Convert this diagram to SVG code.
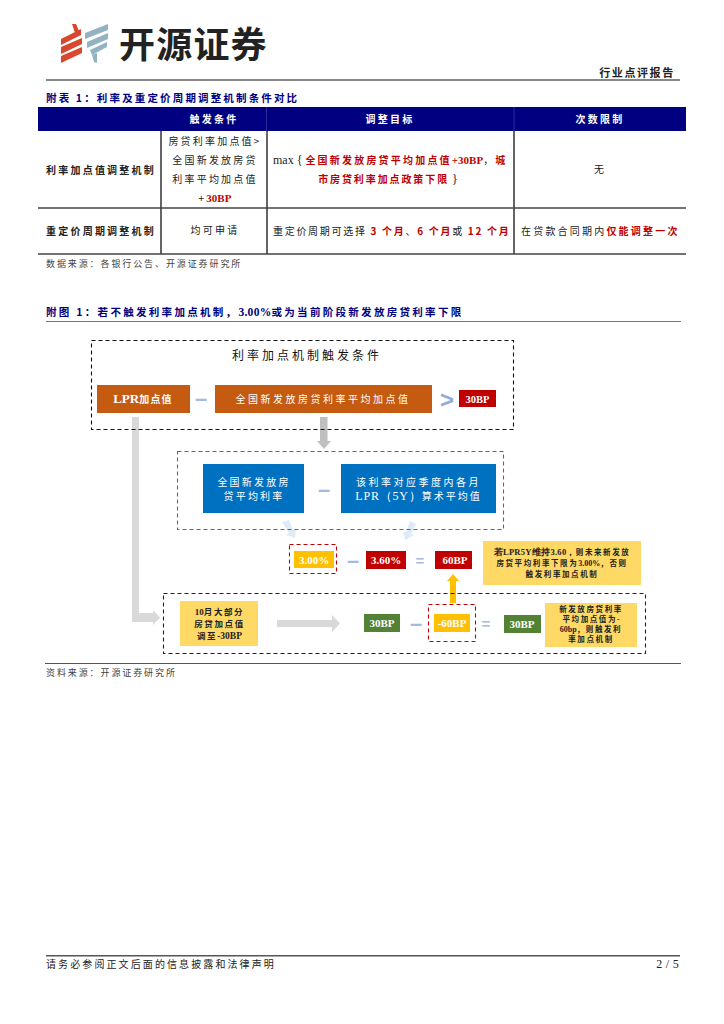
<svg xmlns="http://www.w3.org/2000/svg" width="724" height="1024" viewBox="0 0 724 1024">
<style>
text{font-family:"Noto Sans CJK SC","Liberation Serif",sans-serif;font-size:10px;letter-spacing:2.2px;fill:#222;text-anchor:middle}
.l{text-anchor:start}
.b{font-weight:700}
.w{fill:#fff}
.r{fill:#c00000;font-weight:700}
.n{fill:#000080;font-weight:700}
.lat{font-family:"Liberation Serif",serif;letter-spacing:0}
.s{font-size:7.500px;letter-spacing:1.600px;font-weight:700}
.d{fill:none;stroke-width:1.100;stroke-dasharray:4 3}
.op{font-family:"Liberation Sans",sans-serif;font-weight:700;letter-spacing:0;fill:#a5b9e2}
</style>
<g id="logo">
<path d="M61 39L81 29L81 35L61 45Z M61 47L82 38L82 44L61 54Z M61 56L82 47L82 53L61 63Z M72 24L76 24L79 31L75 33Z" fill="#d9472f"/>
<path d="M85 33L108 24L108 30L85 39Z M87 42L108 33L108 39L87 48Z M90 50L107 42L107 47L92 55Z M92 55L97 53L97 63L94 62Z" fill="#94b3c2"/>
<text x="119" y="58" class="l b" style="font-size:36px;letter-spacing:1.200px;fill:#222">开源证券</text>
</g>
<g id="header">
<rect x="46" y="79.500" width="634" height="1" fill="#111"/>
<text x="637" y="77" class="b" style="font-size:11px;letter-spacing:1.600px">行业点评报告</text>
</g>
<g id="table">
<text x="46" y="102" class="l n" style="font-size:10.500px;letter-spacing:2.150px">附表 1：利率及重定价周期调整机制条件对比</text>
<rect x="38" y="107" width="648" height="24" fill="#000080"/>
<path d="M266.500 107V131M514 107V131" stroke="#2a2a9a" stroke-width="1"/>
<text x="214" y="123" class="w b">触发条件</text>
<text x="390" y="123" class="w b">调整目标</text>
<text x="600" y="123" class="w b">次数限制</text>
<path d="M161 131V254M267 131V254M514 131V254" stroke="#333" stroke-width="1.500" fill="none"/>
<path d="M38 208H686M38 254H686" stroke="#444" stroke-width="1.500" fill="none"/>
<text x="101" y="174" class="b">利率加点值调整机制</text>
<text x="101" y="235" class="b">重定价周期调整机制</text>
<text x="215" y="145">房贷利率加点值&gt;</text>
<text x="215" y="164">全国新发放房贷</text>
<text x="215" y="183">利率平均加点值</text>
<text x="215" y="202"><tspan>+</tspan><tspan class="r lat" style="font-size:11px">30BP</tspan></text>
<text x="273" y="164" class="l" style="letter-spacing:2.200px"><tspan class="lat" style="font-size:12px">max { </tspan><tspan class="r">全国新发放房贷平均加点值</tspan><tspan class="r lat" style="font-size:11px">+30BP</tspan><tspan>，</tspan><tspan class="r">城</tspan></text>
<text x="388" y="183" style="letter-spacing:1.900px"><tspan class="r">市房贷利率加点政策下限</tspan><tspan class="lat" style="font-size:12px"> }</tspan></text>
<text x="600" y="173">无</text>
<text x="215" y="234">均可申请</text>
<text x="273" y="235" class="l" style="letter-spacing:1.700px">重定价周期可选择 <tspan class="r">3 个月</tspan>、<tspan class="r">6 个月</tspan>或 <tspan class="r">12 个月</tspan></text>
<text x="521" y="235" class="l" style="letter-spacing:2.200px">在贷款合同期内<tspan class="r">仅能调整一次</tspan></text>
<text x="46" y="267" class="l" style="font-size:9px;letter-spacing:1.900px;fill:#444">数据来源：各银行公告、开源证券研究所</text>
</g>
<g id="figure-title">
<text x="46" y="316" class="l n" style="font-size:10.500px;letter-spacing:2.300px">附图 1：若不触发利率加点机制，<tspan class="lat" style="font-size:11.500px;letter-spacing:.3px">3.00%</tspan>或为当前阶段新发放房贷利率下限</text>
<rect x="46" y="321" width="635" height="1" fill="#777"/>
</g>
<g id="connectors">
<path d="M132 417H139V613H153V610L160 617.500L153 625V622H132Z" fill="#d9d9d9"/>
<path d="M320 417H327.500V441H331L324 449L317 441H320Z" fill="#bfbfbf"/>
<path d="M282 522L289 520L293 530L296 528L295 538L286 535L289 533Z" fill="#deebf7"/>
<path d="M410 521L416 524L411 534L414 535L405 540L403 531L406 532Z" fill="#deebf7"/>
<path d="M450 603V581H447L453 574L459 581H456V603Z" fill="#ffc000"/>
<path d="M277 620H332V615L340 623.500L332 632V627H277Z" fill="#d9d9d9"/>
</g>
<g id="box-trigger">
<rect x="91.500" y="340.500" width="422" height="89" class="d" stroke="#111"/>
<text x="307" y="360" style="font-size:12px;letter-spacing:3px;fill:#111">利率加点机制触发条件</text>
</g>
<g id="lpr-spread"><rect x="97" y="385" width="93" height="28" fill="#c55a11"/>
<text x="143" y="403" class="w b" style="letter-spacing:1.200px"><tspan class="lat" style="font-size:13px">LPR</tspan>加点值</text></g>
<text x="201" y="406" class="op" style="font-size:22px">–</text>
<g id="national-spread"><rect x="215" y="385" width="217" height="28" fill="#c55a11"/>
<text x="323" y="403" class="w" style="letter-spacing:2.500px">全国新发放房贷利率平均加点值</text></g>
<text x="447" y="408" class="op" style="font-size:24px;fill:#8faadc">&gt;</text>
<g id="v30bp"><rect x="459" y="390" width="37" height="17" fill="#c00000"/>
<text x="477.500" y="402.500" class="w lat b" style="font-size:10.500px">30BP</text></g>
<g id="box-rate"><rect x="177.500" y="451.500" width="326" height="78" class="d" stroke="#666"/></g>
<g id="national-rate"><rect x="203" y="464" width="101" height="49" fill="#0070c0"/>
<text x="254" y="486" class="w" style="letter-spacing:2.200px">全国新发放房</text>
<text x="254" y="500" class="w" style="letter-spacing:2.200px">贷平均利率</text></g>
<text x="324" y="497" class="op" style="font-size:22px">–</text>
<g id="lpr-average"><rect x="341" y="464" width="155" height="49" fill="#0070c0"/>
<text x="418.500" y="486" class="w" style="letter-spacing:2.500px">该利率对应季度内各月</text>
<text x="418.500" y="500" class="w" style="letter-spacing:2px"><tspan class="lat" style="font-size:12px;letter-spacing:.8px">LPR（5Y）</tspan>算术平均值</text></g>
<g id="v300"><rect x="289.500" y="544.500" width="47" height="29" class="d" stroke="#c00000"/>
<rect x="294" y="551" width="40" height="17" fill="#ffc000"/>
<text x="314" y="564" class="w lat b" style="font-size:11px">3.00%</text></g>
<text x="353" y="568" class="op" style="font-size:22px">–</text>
<g id="v360"><rect x="366" y="551" width="40" height="18" fill="#c00000"/>
<text x="386" y="564" class="w lat b" style="font-size:11px">3.60%</text></g>
<text x="420" y="566" class="op" style="font-size:15px">=</text>
<g id="v60"><rect x="435" y="551" width="37" height="18" fill="#c00000"/>
<text x="455" y="564" class="w lat b" style="font-size:11px">60BP</text></g>
<g id="note-top"><rect x="483" y="541" width="158" height="44" fill="#ffd966"/>
<text x="562" y="555" class="s"><tspan class="lat" style="font-size:8.500px;letter-spacing:.3px">若LPR5Y维持3.60，</tspan>则未来新发放</text>
<text x="562" y="566" class="s">房贷平均利率下限为<tspan class="lat" style="font-size:8px">3.00%</tspan>，否则</text>
<text x="562" y="577" class="s">触发利率加点机制</text></g>
<g id="box-adjust"><rect x="163.500" y="593.500" width="482" height="60" class="d" stroke="#222"/></g>
<g id="october"><rect x="180" y="601" width="78" height="45" fill="#ffd966"/>
<text x="219.500" y="615" class="s" style="font-size:8.500px"><tspan class="lat" style="font-size:9px">10</tspan>月大部分</text>
<text x="219.500" y="627" class="s" style="font-size:8.500px">房贷加点值</text>
<text x="219.500" y="639" class="s" style="font-size:8.500px">调至<tspan class="lat" style="font-size:9.500px">-30BP</tspan></text></g>
<g id="v30a"><rect x="364" y="614" width="36" height="18" fill="#548235"/>
<text x="382" y="627" class="w lat b" style="font-size:11px">30BP</text></g>
<text x="416" y="631" class="op" style="font-size:22px">–</text>
<g id="vneg60"><rect x="428.500" y="604.500" width="47" height="37" class="d" stroke="#c00000"/>
<rect x="434" y="614" width="36" height="18" fill="#ffc000"/>
<text x="452" y="627" class="w lat b" style="font-size:11px">-60BP</text></g>
<text x="486" y="629" class="op" style="font-size:15px">=</text>
<g id="v30b"><rect x="504" y="615" width="37" height="18" fill="#548235"/>
<text x="522" y="628" class="w lat b" style="font-size:11px">30BP</text></g>
<g id="note-bottom"><rect x="545" y="603" width="92" height="44" fill="#ffd966"/>
<text x="591" y="612" class="s">新发放房贷利率</text>
<text x="591" y="622" class="s">平均加点值为<tspan class="lat">-</tspan></text>
<text x="591" y="632" class="s"><tspan class="lat" style="font-size:8px">60bp</tspan>，则触发利</text>
<text x="591" y="642" class="s">率加点机制</text></g>
<g id="footer">
<rect x="45" y="663" width="636" height="1" fill="#555"/>
<text x="46" y="676" class="l" style="font-size:9px;letter-spacing:1.900px;fill:#444">资料来源：开源证券研究所</text>
<rect x="46" y="955" width="634" height="1.500" fill="#555"/>
<text x="46" y="968" class="l" style="font-size:10px;letter-spacing:2.100px">请务必参阅正文后面的信息披露和法律声明</text>
<text x="679" y="968" class="lat" style="text-anchor:end;font-size:12px;letter-spacing:.3px">2 / 5</text>
</g>
</svg>
